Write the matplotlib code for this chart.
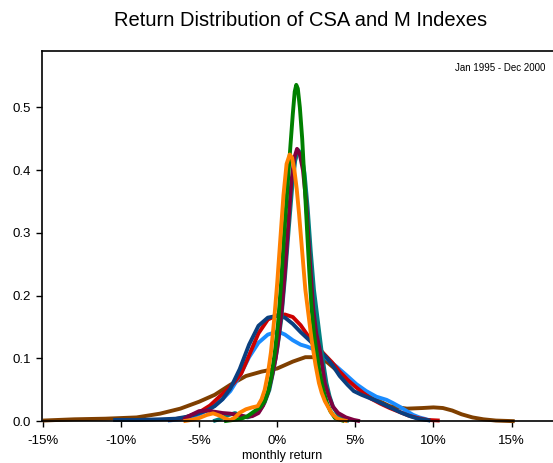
import matplotlib
matplotlib.use("Agg")
import matplotlib.pyplot as plt
from matplotlib.ticker import FuncFormatter

plt.rcParams["font.family"] = ["Liberation Sans", "DejaVu Sans"]

# ==============================================================================
# Density estimates of monthly returns, one curve per index (x in %, y density)
# ==============================================================================
brown_x = [-15, -13, -11, -9, -7.5, -6.2, -5, -4, -3, -2, -1, 0, 1, 1.8, 2.5, 3.2,
           4, 4.85, 5.5, 6.2, 7.2, 8.3, 9.3, 10, 10.6, 11.2, 11.8, 12.5, 13.2, 14, 15.2]
brown_y = [0.001, 0.003, 0.004, 0.006, 0.012, 0.020, 0.031, 0.042, 0.058, 0.072,
           0.079, 0.084, 0.095, 0.102, 0.102, 0.094, 0.077, 0.060, 0.047, 0.036,
           0.024, 0.020, 0.021, 0.022, 0.021, 0.017, 0.011, 0.006, 0.003, 0.001, 0.0]

lblue_x = [-7.0, -6.2, -5.5, -5.0, -4.5, -4.0, -3.5, -3.0, -2.4, -1.8, -1.2, -0.6, 0.05,
           0.5, 1.0, 1.5, 1.9, 2.3, 2.7, 3.2, 3.8, 4.4, 5.07, 5.7, 6.35, 7.0, 7.4,
           7.84, 8.3, 8.7, 9.1, 9.55, 9.8]
lblue_y = [0.001, 0.003, 0.007, 0.011, 0.017, 0.025, 0.035, 0.048, 0.072, 0.102,
           0.125, 0.138, 0.143, 0.138, 0.129, 0.122, 0.119, 0.115, 0.109, 0.099,
           0.087, 0.074, 0.059, 0.048, 0.039, 0.034, 0.029, 0.023, 0.016, 0.010,
           0.006, 0.003, 0.001]

red_x = [-7.0, -6.0, -5.0, -4.3, -3.7, -3.2, -2.8, -2.3, -1.8, -1.2, -0.6, 0, 0.5,
         1.0, 1.5, 2.0, 2.5, 3.0, 3.5, 4.0, 4.5, 5.0, 5.5, 6.0, 6.6, 7.2, 7.8, 8.4,
         9.0, 9.6, 10.4]
red_y = [0.002, 0.005, 0.014, 0.025, 0.039, 0.050, 0.060, 0.076, 0.105, 0.140,
         0.162, 0.169, 0.170, 0.166, 0.153, 0.135, 0.121, 0.107, 0.094, 0.079,
         0.066, 0.055, 0.045, 0.036, 0.028, 0.021, 0.015, 0.009, 0.005, 0.002, 0.001]

navy_x = [-10.5, -9, -7.5, -6.5, -5.8, -5.2, -4.5, -4.0, -3.5, -3.0, -2.4, -1.8,
          -1.2, -0.6, 0, 0.5, 1.0, 1.5, 2.1, 2.7, 3.2, 3.6, 4.0, 4.5, 4.9, 5.4,
          5.8, 6.3, 6.8, 7.4, 7.9, 8.5, 9.0, 9.8]
navy_y = [0.002, 0.002, 0.003, 0.004, 0.007, 0.011, 0.017, 0.024, 0.035, 0.052,
          0.083, 0.122, 0.152, 0.165, 0.168, 0.165, 0.155, 0.142, 0.128, 0.113,
          0.100, 0.087, 0.072, 0.058, 0.048, 0.042, 0.038, 0.033, 0.027, 0.020,
          0.014, 0.008, 0.004, 0.001]

teal_x = [-4.1, -3.6, -3.2, -2.7, -2.3, -1.9, -1.5, -1.1, -0.8, -0.5, -0.25, 0.0,
          0.25, 0.5, 0.75, 0.95, 1.15, 1.35, 1.55, 1.75, 1.95, 2.15, 2.35, 2.6,
          2.83, 3.0, 3.15, 3.35, 3.57, 3.9, 4.2, 4.6]
teal_y = [0.0, 0.004, 0.009, 0.013, 0.009, 0.006, 0.010, 0.018, 0.03, 0.05, 0.08,
          0.115, 0.16, 0.23, 0.31, 0.37, 0.415, 0.432, 0.425, 0.395, 0.34, 0.27,
          0.21, 0.16, 0.114, 0.085, 0.061, 0.04, 0.023, 0.01, 0.004, 0.0]

maroon_x = [-6.0, -5.5, -5.0, -4.5, -4.0, -3.5, -3.0, -2.5, -2.0, -1.6, -1.2, -0.9,
            -0.6, -0.35, -0.1, 0.1, 0.3, 0.5, 0.7, 0.9, 1.1, 1.27, 1.45, 1.65,
            1.85, 2.05, 2.3, 2.5, 2.72, 2.9, 3.05, 3.3, 3.57, 3.9, 4.4, 4.9, 5.3]
maroon_y = [0.003, 0.010, 0.016, 0.017, 0.015, 0.013, 0.012, 0.010, 0.007, 0.008,
            0.013, 0.025, 0.045, 0.07, 0.10, 0.135, 0.18, 0.24, 0.31, 0.38, 0.42,
            0.434, 0.425, 0.40, 0.35, 0.27, 0.18, 0.14, 0.114, 0.085, 0.06, 0.04,
            0.023, 0.013, 0.006, 0.002, 0.0]

green_x = [-3.4, -2.8, -2.3, -1.9, -1.5, -1.1, -0.8, -0.55, -0.35, -0.15, 0.05,
           0.25, 0.45, 0.65, 0.85, 1.0, 1.12, 1.22, 1.32, 1.45, 1.6, 1.75, 1.9,
           2.05, 2.2, 2.35, 2.5, 2.7, 2.85, 3.0, 3.2, 3.4, 3.7, 4.3]
green_y = [0.0, 0.002, 0.004, 0.008, 0.015, 0.022, 0.032, 0.05, 0.075, 0.11, 0.155,
           0.22, 0.30, 0.37, 0.44, 0.49, 0.525, 0.536, 0.53, 0.50, 0.45, 0.38,
           0.31, 0.24, 0.18, 0.14, 0.114, 0.08, 0.061, 0.045, 0.028, 0.016, 0.005, 0.0]

orange_x = [-6.0, -5.5, -5.0, -4.5, -4.1, -3.7, -3.3, -3.0, -2.7, -2.4, -2.0, -1.6,
            -1.25, -1.0, -0.8, -0.6, -0.4, -0.2, 0.0, 0.2, 0.4, 0.6, 0.8, 0.95,
            1.1, 1.25, 1.4, 1.6, 1.8, 2.0, 2.2, 2.45, 2.67, 2.85, 3.05, 3.25, 3.5,
            3.8, 4.1, 4.5]
orange_y = [0.0, 0.002, 0.005, 0.010, 0.0125, 0.009, 0.004, 0.002, 0.006, 0.0135,
            0.019, 0.022, 0.024, 0.035, 0.05, 0.075, 0.11, 0.16, 0.22, 0.29, 0.36,
            0.41, 0.425, 0.42, 0.40, 0.37, 0.33, 0.27, 0.21, 0.17, 0.13, 0.09,
            0.061, 0.045, 0.032, 0.023, 0.012, 0.005, 0.002, 0.0]

x_ticks = [-15, -10, -5, 0, 5, 10, 15]
y_ticks = [0.0, 0.1, 0.2, 0.3, 0.4, 0.5]

# bottom-most first, so the narrow peaks sit on top
curves = [
    (brown_x, brown_y, "#7f3f00"),
    (lblue_x, lblue_y, "#1a8cff"),
    (red_x, red_y, "#cc0000"),
    (navy_x, navy_y, "#0a3f7f"),
    (teal_x, teal_y, "#008080"),
    (maroon_x, maroon_y, "#7f0040"),
    (green_x, green_y, "#008000"),
    (orange_x, orange_y, "#ff8000"),
]

fig = plt.figure(figsize=(5.53, 4.63), dpi=100)
ax = fig.add_axes([0.076, 0.0903, 0.924, 0.7996])

for xs, ys, color in curves:
    ax.plot(xs, ys, color=color, lw=2.8, solid_capstyle="butt", clip_on=False)

ax.set_xlim(-15.05, 17.65)
ax.set_ylim(0, 0.590)
ax.set_xticks(x_ticks)
ax.set_yticks(y_ticks)
ax.xaxis.set_major_formatter(FuncFormatter(lambda v, _: f"{v:.0f}%"))
ax.yaxis.set_major_formatter(FuncFormatter(lambda v, _: f"{v:.1f}"))
ax.tick_params(direction="out", length=4.3, width=1, labelsize=9.5)
ax.tick_params(axis="x", pad=6)
ax.tick_params(axis="y", pad=4)

ax.spines["right"].set_visible(False)
for side in ("top", "left", "bottom"):
    ax.spines[side].set_linewidth(1.2)
    ax.spines[side].set_color("black")

ax.text(0.985, 0.955, "Jan 1995 - Dec 2000", transform=ax.transAxes,
        ha="right", va="center", fontsize=7)

fig.text(301 / 553, 1 - 20 / 463, "Return Distribution of CSA and M Indexes",
         ha="center", va="center", fontsize=14.5)
fig.text(282 / 553, 1 - 456 / 463, "monthly return", ha="center", va="center",
         fontsize=9)

fig.savefig("out.png", dpi=100)
plt.close(fig)
